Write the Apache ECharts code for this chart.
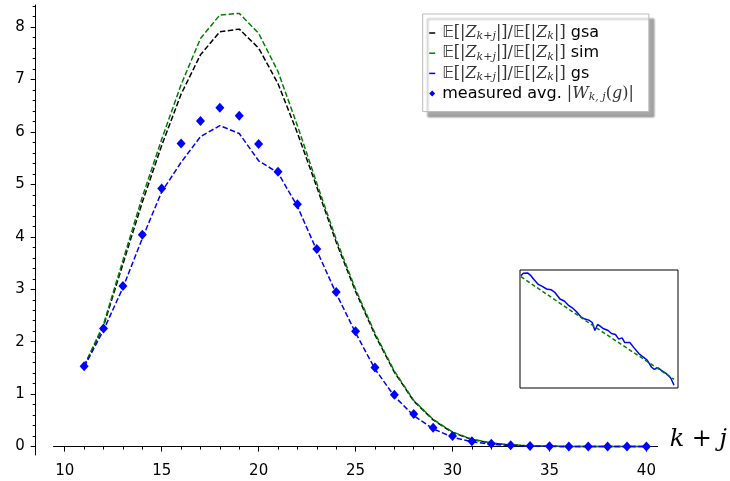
<!DOCTYPE html>
<html><head><meta charset="utf-8">
<script src="https://cdn.jsdelivr.net/npm/echarts@6/dist/echarts.min.js"></script>
<style>html,body{margin:0;padding:0;background:#fff}#c{width:730px;height:481px}</style>
</head><body><div id="c"></div>
<script>
// ---- data ----
const kj = [11,12,13,14,15,16,17,18,19,20,21,22,23,24,25,26,27,28,29,30,31,32,33,34,35,36,37,38,39,40];
const gsa = [1.53,2.30,3.48,4.66,5.74,6.72,7.47,7.91,7.96,7.60,6.92,5.98,4.95,3.90,2.96,2.13,1.42,0.87,0.51,0.27,0.135,0.065,0.03,0.014,0.006,0.003,0.001,0.0005,0.0002,0.0001];
const sim = [1.54,2.33,3.55,4.76,5.86,6.90,7.78,8.23,8.26,7.88,7.15,6.12,5.02,3.95,3.00,2.16,1.44,0.88,0.52,0.28,0.14,0.07,0.035,0.017,0.008,0.004,0.002,0.001,0.0005,0.0002];
const gs = [1.52,2.22,3.03,3.97,4.86,5.42,5.91,6.12,5.97,5.45,5.22,4.58,3.74,2.92,2.17,1.48,0.96,0.59,0.34,0.18,0.09,0.045,0.02,0.01,0.005,0.002,0.001,0.0005,0.0002,0.0001];
const measured = [1.53,2.25,3.06,4.04,4.92,5.78,6.21,6.46,6.31,5.77,5.24,4.62,3.77,2.95,2.20,1.51,0.99,0.62,0.36,0.20,0.10,0.055,0.025,0.012,0.006,0.003,0.001,0.0005,0.0002,0.0001];
const xTickLabels = [10,15,20,25,30,35,40];
const yTickLabels = [0,1,2,3,4,5,6,7,8];
// inset (zoomed detail), unitless coordinates inside the box
const insetT = [0.6,2.1,4.8,6.9,9.1,11.6,14.1,16.8,19.6,22.1,25.3,28.0,30.5,33.1,35.8,38.5,41.1,43.6,45.7,47.4,49.1,50.5,52.6,55.8,57.9,60.4,62.5,64.6,66.3,69.5,72.2,75.2,77.9,80.6,83.2,84.8,87.4,89.5,92.6,95.4,97.5];
const insetBlue = [95.2,97.2,97.5,95.2,91.5,87.8,86.1,83.9,83.3,81.0,75.4,73.7,70.3,68.0,64.6,60.3,58.4,57.5,55.5,48.7,53.8,52.7,50.4,48.7,46.2,45.3,41.4,42.5,38.5,38.5,34.0,29.2,26.3,23.5,17.8,15.9,17.0,15.0,12.2,8.5,2.3];
const insetGreenT = [0.6,47.4,97.5];
const insetGreen = [94.3,51.8,7.4];

// ---- derived ----
const xMinor = []; for (let v = 10; v <= 40; v++) xMinor.push(v);
const yMinor = []; for (let i = 0; i <= 42; i++) yMinor.push(Math.round(i * 2) / 10);
const pairs = (xs, ys) => xs.map((x, i) => [x, ys[i]]);

const X0 = 9.42, X1 = 40.58, Y0 = -0.16, Y1 = 8.42;
const axisFont = {fontFamily: 'DejaVu Sans', fontSize: 15, color: '#000'};
const blk = {color: '#000', width: 1};

const mathC = '#333';
const LH = 18;
const rich = {
  gap: {width: 2, fontSize: 16, lineHeight: LH},
  bb: {fontFamily: 'DejaVu Sans', fontSize: 16, color: mathC, lineHeight: LH},
  m: {fontFamily: 'DejaVu Serif', fontSize: 16, color: mathC, lineHeight: LH},
  it: {fontFamily: 'DejaVu Serif', fontStyle: 'italic', fontSize: 16, color: mathC, lineHeight: LH},
  sub: {fontFamily: 'DejaVu Serif', fontStyle: 'italic', fontSize: 11, color: mathC, lineHeight: 11, verticalAlign: 'bottom'},
  subr: {fontFamily: 'DejaVu Serif', fontSize: 11, color: mathC, lineHeight: 11, verticalAlign: 'bottom'},
  t: {fontFamily: 'DejaVu Sans', fontSize: 16, color: '#000', lineHeight: LH}
};
const ratio = '{gap| }{bb|𝔼}{m|[|}{it|Z}{sub|k}{subr|+}{sub|j}{m||]/}{bb|𝔼}{m|[|}{it|Z}{sub|k}{m||]}';
const legendText = {
  gsa: ratio + '{t| gsa}',
  sim: ratio + '{t| sim}',
  gs: ratio + '{t| gs}',
  measured: '{gap| }{t|measured avg. }{m||}{it|W}{sub|k, j}{m|(}{it|g}{m|)|}'
};
const dash = 'path://M0,0L6,0L6,1.5L0,1.5Z';

const chart = echarts.init(document.getElementById('c'), null, {renderer: 'canvas'});
chart.setOption({
  animation: false,
  backgroundColor: '#fff',
  grid: [
    {left: 53.5, right: 69.7, top: 5, bottom: 26},
    {left: 520, top: 270, width: 158, height: 118, show: true, borderColor: '#000', borderWidth: 1, backgroundColor: '#fff'}
  ],
  xAxis: [
    {type: 'value', gridIndex: 0, min: X0, max: X1, position: 'bottom',
     axisLine: {onZero: true, lineStyle: blk},
     axisTick: {customValues: xTickLabels, length: 5, lineStyle: blk},
     axisLabel: Object.assign({customValues: xTickLabels, margin: 9}, axisFont),
     splitLine: {show: false},
     name: '{i|k} + {i|j}', nameLocation: 'end', nameGap: 12,
     nameTextStyle: {fontFamily: 'DejaVu Serif', fontSize: 24, color: '#000', padding: [0, 0, 14, 0],
       rich: {i: {fontFamily: 'DejaVu Serif', fontStyle: 'italic', fontSize: 24, color: '#000'}}}},
    {type: 'value', gridIndex: 0, min: X0, max: X1, position: 'bottom',
     axisLine: {show: false, onZero: true},
     axisTick: {customValues: xMinor, length: 3, lineStyle: blk},
     axisLabel: {show: false}, splitLine: {show: false}},
    {type: 'value', gridIndex: 1, min: 0, max: 100, show: false}
  ],
  yAxis: [
    {type: 'value', gridIndex: 0, min: Y0, max: Y1, position: 'left', offset: 17.8,
     axisLine: {show: true, onZero: false, lineStyle: blk},
     axisTick: {customValues: yTickLabels, length: 5, lineStyle: blk},
     axisLabel: Object.assign({customValues: yTickLabels, margin: 11}, axisFont),
     splitLine: {show: false}},
    {type: 'value', gridIndex: 0, min: Y0, max: Y1, position: 'left', offset: 17.8,
     axisLine: {show: false, onZero: false},
     axisTick: {customValues: yMinor, length: 3, lineStyle: blk},
     axisLabel: {show: false}, splitLine: {show: false}},
    {type: 'value', gridIndex: 1, min: 0, max: 100, show: false}
  ],
  legend: {
    orient: 'vertical', left: 422.7, top: 14,
    padding: [11, 15, 9, 6.5], itemGap: 3.2, itemWidth: 6, itemHeight: 6,
    selectedMode: false,
    data: [{name: 'gsa', icon: dash}, {name: 'sim', icon: dash}, {name: 'gs', icon: dash}, {name: 'measured', icon: 'diamond'}],
    formatter: n => legendText[n],
    textStyle: {fontFamily: 'DejaVu Sans', fontSize: 16, color: '#000', rich: rich},
    backgroundColor: '#fff', borderColor: '#bbb', borderWidth: 1,
    shadowColor: 'rgba(0,0,0,0.35)', shadowOffsetX: 5, shadowOffsetY: 5, shadowBlur: 2
  },
  series: [
    {name: 'gsa', type: 'line', xAxisIndex: 0, yAxisIndex: 0, data: pairs(kj, gsa), symbol: 'none',
     lineStyle: {color: '#000', width: 1.5, type: [5.5, 2.4]}, itemStyle: {color: '#000'}},
    {name: 'sim', type: 'line', xAxisIndex: 0, yAxisIndex: 0, data: pairs(kj, sim), symbol: 'none',
     lineStyle: {color: '#008000', width: 1.5, type: [5.5, 2.4]}, itemStyle: {color: '#008000'}},
    {name: 'gs', type: 'line', xAxisIndex: 0, yAxisIndex: 0, data: pairs(kj, gs), symbol: 'none',
     lineStyle: {color: '#0000ff', width: 1.5, type: [5.5, 2.4]}, itemStyle: {color: '#0000ff'}},
    {name: 'measured', type: 'scatter', xAxisIndex: 0, yAxisIndex: 0, data: pairs(kj, measured),
     symbol: 'diamond', symbolSize: [9, 10], itemStyle: {color: '#0000ff', opacity: 1}, z: 4},
    {type: 'line', xAxisIndex: 2, yAxisIndex: 2, data: pairs(insetT, insetBlue), symbol: 'none',
     lineStyle: {color: '#0000ff', width: 1.5}},
    {type: 'line', xAxisIndex: 2, yAxisIndex: 2, data: pairs(insetGreenT, insetGreen), symbol: 'none',
     lineStyle: {color: '#008000', width: 1.5, type: [4, 2.5]}}
  ]
});
</script></body></html>
